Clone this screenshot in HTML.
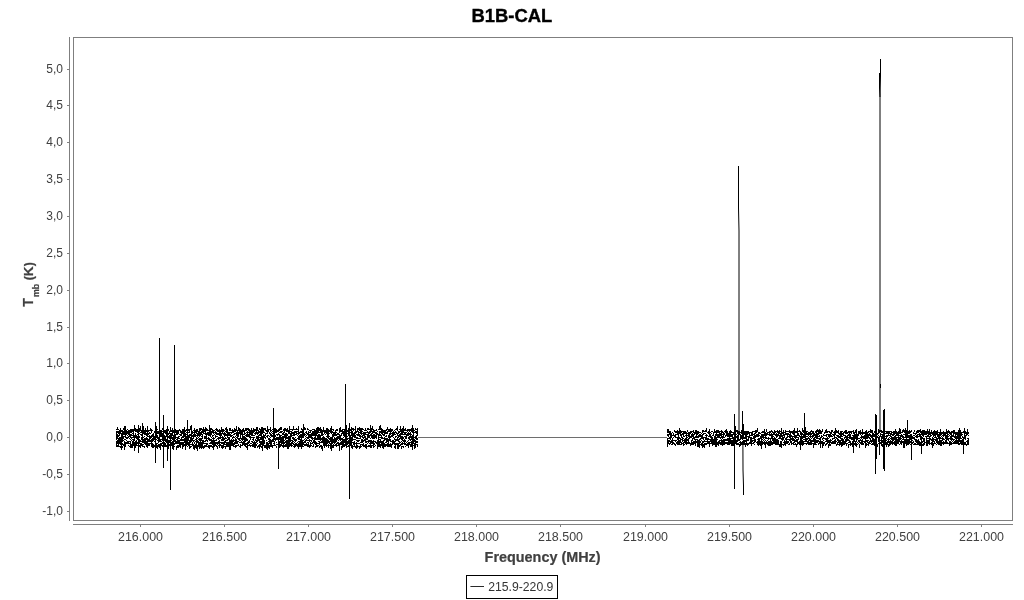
<!DOCTYPE html>
<html><head><meta charset="utf-8"><title>B1B-CAL</title>
<style>
html,body{margin:0;padding:0;background:#fff;}
body{width:1024px;height:600px;overflow:hidden;font-family:"Liberation Sans",sans-serif;}
svg{display:block;filter:grayscale(1);}
text{font-family:"Liberation Sans",sans-serif;}
</style></head><body>
<svg width="1024" height="600" viewBox="0 0 1024 600">
<rect x="0" y="0" width="1024" height="600" fill="#ffffff"/>
<text id="title" x="511.9" y="21.6" font-size="18" font-weight="bold" fill="#000" stroke="#000" stroke-width="0.35" text-anchor="middle" textLength="80.8" lengthAdjust="spacingAndGlyphs">B1B-CAL</text>
<g shape-rendering="crispEdges" fill="none" stroke="#7f7f7f" stroke-width="1">
<rect x="73.5" y="37.5" width="939" height="483"/>
<line x1="69.5" y1="37" x2="69.5" y2="521"/>
<line x1="73" y1="524.5" x2="1013" y2="524.5"/>
<line x1="67" y1="511.5" x2="70" y2="511.5"/>
<line x1="67" y1="474.5" x2="70" y2="474.5"/>
<line x1="67" y1="437.5" x2="70" y2="437.5"/>
<line x1="67" y1="400.5" x2="70" y2="400.5"/>
<line x1="67" y1="363.5" x2="70" y2="363.5"/>
<line x1="67" y1="327.5" x2="70" y2="327.5"/>
<line x1="67" y1="290.5" x2="70" y2="290.5"/>
<line x1="67" y1="253.5" x2="70" y2="253.5"/>
<line x1="67" y1="216.5" x2="70" y2="216.5"/>
<line x1="67" y1="179.5" x2="70" y2="179.5"/>
<line x1="67" y1="142.5" x2="70" y2="142.5"/>
<line x1="67" y1="105.5" x2="70" y2="105.5"/>
<line x1="67" y1="69.5" x2="70" y2="69.5"/>
<line x1="140.5" y1="524" x2="140.5" y2="527"/>
<line x1="224.5" y1="524" x2="224.5" y2="527"/>
<line x1="308.5" y1="524" x2="308.5" y2="527"/>
<line x1="392.5" y1="524" x2="392.5" y2="527"/>
<line x1="476.5" y1="524" x2="476.5" y2="527"/>
<line x1="560.5" y1="524" x2="560.5" y2="527"/>
<line x1="645.5" y1="524" x2="645.5" y2="527"/>
<line x1="729.5" y1="524" x2="729.5" y2="527"/>
<line x1="813.5" y1="524" x2="813.5" y2="527"/>
<line x1="897.5" y1="524" x2="897.5" y2="527"/>
<line x1="981.5" y1="524" x2="981.5" y2="527"/>
</g>
<g font-size="12" fill="#404040">
<text x="63" y="514.8" text-anchor="end">-1,0</text>
<text x="63" y="477.8" text-anchor="end">-0,5</text>
<text x="63" y="440.8" text-anchor="end">0,0</text>
<text x="63" y="403.8" text-anchor="end">0,5</text>
<text x="63" y="366.8" text-anchor="end">1,0</text>
<text x="63" y="330.8" text-anchor="end">1,5</text>
<text x="63" y="293.8" text-anchor="end">2,0</text>
<text x="63" y="256.8" text-anchor="end">2,5</text>
<text x="63" y="219.8" text-anchor="end">3,0</text>
<text x="63" y="182.8" text-anchor="end">3,5</text>
<text x="63" y="145.8" text-anchor="end">4,0</text>
<text x="63" y="108.8" text-anchor="end">4,5</text>
<text x="63" y="72.8" text-anchor="end">5,0</text>
<text x="140.5" y="540.8" text-anchor="middle" textLength="45" lengthAdjust="spacingAndGlyphs">216.000</text>
<text x="224.5" y="540.8" text-anchor="middle" textLength="45" lengthAdjust="spacingAndGlyphs">216.500</text>
<text x="308.5" y="540.8" text-anchor="middle" textLength="45" lengthAdjust="spacingAndGlyphs">217.000</text>
<text x="392.5" y="540.8" text-anchor="middle" textLength="45" lengthAdjust="spacingAndGlyphs">217.500</text>
<text x="476.5" y="540.8" text-anchor="middle" textLength="45" lengthAdjust="spacingAndGlyphs">218.000</text>
<text x="560.5" y="540.8" text-anchor="middle" textLength="45" lengthAdjust="spacingAndGlyphs">218.500</text>
<text x="645.5" y="540.8" text-anchor="middle" textLength="45" lengthAdjust="spacingAndGlyphs">219.000</text>
<text x="729.5" y="540.8" text-anchor="middle" textLength="45" lengthAdjust="spacingAndGlyphs">219.500</text>
<text x="813.5" y="540.8" text-anchor="middle" textLength="45" lengthAdjust="spacingAndGlyphs">220.000</text>
<text x="897.5" y="540.8" text-anchor="middle" textLength="45" lengthAdjust="spacingAndGlyphs">220.500</text>
<text x="981.5" y="540.8" text-anchor="middle" textLength="45" lengthAdjust="spacingAndGlyphs">221.000</text>
</g>
<text x="542.6" y="562" font-size="13.9" font-weight="bold" fill="#404040" stroke="#404040" stroke-width="0.2" text-anchor="middle" textLength="116" lengthAdjust="spacingAndGlyphs">Frequency (MHz)</text>
<g transform="translate(33.2,306.8) rotate(-90)" font-weight="bold" fill="#404040" stroke="#404040" stroke-width="0.2"><text x="0" y="0" font-size="14">T<tspan font-size="8.8" dy="5.6" dx="1.2">mb</tspan><tspan dy="-6.3" dx="3.6" font-size="12.3">(</tspan><tspan dy="0.7" font-size="13.6">K</tspan><tspan dy="-0.7" font-size="12.3">)</tspan></text></g>
<rect x="466.5" y="575.5" width="91" height="23" fill="#fff" stroke="#000" stroke-width="1" shape-rendering="crispEdges"/>
<rect x="470.4" y="586" width="13.6" height="1" fill="#2a2a2a"/>
<text x="488.2" y="590.8" font-size="12" fill="#333" textLength="65.2" lengthAdjust="spacingAndGlyphs">215.9-220.9</text>
<path shape-rendering="crispEdges" fill="#000" d="M116 429h1v1h-1zM116 431h1v9h-1zM116 441h1v6h-1zM117 427h1v3h-1zM117 431h1v2h-1zM117 434h1v5h-1zM117 440h1v4h-1zM117 445h1v2h-1zM118 429h1v1h-1zM118 431h1v3h-1zM118 435h1v2h-1zM118 438h1v9h-1zM119 430h1v6h-1zM119 437h1v7h-1zM119 446h1v1h-1zM120 428h1v6h-1zM120 437h1v8h-1zM120 446h1v2h-1zM121 430h1v2h-1zM121 433h1v7h-1zM121 441h1v3h-1zM121 445h1v2h-1zM122 430h1v12h-1zM122 443h1v2h-1zM122 446h1v2h-1zM123 428h1v2h-1zM123 431h1v4h-1zM123 436h1v3h-1zM123 440h1v1h-1zM123 444h1v2h-1zM124 426h1v9h-1zM124 436h1v1h-1zM124 439h1v1h-1zM124 441h1v9h-1zM125 428h1v8h-1zM125 437h1v1h-1zM125 439h1v1h-1zM125 442h1v5h-1zM126 430h1v5h-1zM126 437h1v2h-1zM126 440h1v1h-1zM126 442h1v2h-1zM127 429h1v1h-1zM127 431h1v3h-1zM127 435h1v1h-1zM127 437h1v2h-1zM127 441h1v3h-1zM128 430h1v5h-1zM128 436h1v2h-1zM128 441h1v3h-1zM128 445h1v1h-1zM129 430h1v7h-1zM129 438h1v1h-1zM129 441h1v1h-1zM129 443h1v1h-1zM129 446h1v1h-1zM130 429h1v4h-1zM130 434h1v4h-1zM130 439h1v1h-1zM130 441h1v7h-1zM131 429h1v4h-1zM131 434h1v2h-1zM131 437h1v2h-1zM131 440h1v1h-1zM131 444h1v4h-1zM132 429h1v3h-1zM132 433h1v1h-1zM132 435h1v1h-1zM132 437h1v1h-1zM132 439h1v1h-1zM132 441h1v7h-1zM133 429h1v9h-1zM133 439h1v7h-1zM134 425h1v6h-1zM134 435h1v6h-1zM134 442h1v9h-1zM135 428h1v4h-1zM135 433h1v5h-1zM135 441h1v7h-1zM136 429h1v3h-1zM136 435h1v4h-1zM136 440h1v6h-1zM137 429h1v4h-1zM137 434h1v1h-1zM137 436h1v4h-1zM137 442h1v2h-1zM137 445h1v1h-1zM138 428h1v4h-1zM138 434h1v4h-1zM138 440h1v4h-1zM138 445h1v2h-1zM139 428h1v4h-1zM139 433h1v1h-1zM139 436h1v2h-1zM139 439h1v5h-1zM139 445h1v2h-1zM140 426h1v5h-1zM140 432h1v1h-1zM140 434h1v1h-1zM140 440h1v2h-1zM140 443h1v5h-1zM141 430h1v3h-1zM141 434h1v2h-1zM141 437h1v3h-1zM141 441h1v1h-1zM141 443h1v3h-1zM142 427h1v7h-1zM142 435h1v1h-1zM142 437h1v6h-1zM142 444h1v3h-1zM143 426h1v8h-1zM143 437h1v1h-1zM143 439h1v4h-1zM143 444h1v1h-1zM143 446h1v1h-1zM144 430h1v5h-1zM144 436h1v1h-1zM144 438h1v6h-1zM144 446h1v2h-1zM145 428h1v7h-1zM145 438h1v7h-1zM146 430h1v2h-1zM146 433h1v3h-1zM146 437h1v3h-1zM146 441h1v6h-1zM147 426h1v11h-1zM147 438h1v10h-1zM148 430h1v2h-1zM148 433h1v2h-1zM148 436h1v1h-1zM148 439h1v3h-1zM148 443h1v3h-1zM149 430h1v1h-1zM149 432h1v2h-1zM149 435h1v7h-1zM149 443h1v3h-1zM150 428h1v3h-1zM150 433h1v1h-1zM150 436h1v3h-1zM150 440h1v2h-1zM150 443h1v1h-1zM151 429h1v4h-1zM151 435h1v3h-1zM151 439h1v8h-1zM152 430h1v1h-1zM152 434h1v3h-1zM152 438h1v4h-1zM152 443h1v5h-1zM153 433h1v8h-1zM153 444h1v4h-1zM154 431h1v2h-1zM154 436h1v4h-1zM154 441h1v1h-1zM154 445h1v2h-1zM155 430h1v3h-1zM155 437h1v3h-1zM155 441h1v3h-1zM156 426h1v12h-1zM156 439h1v1h-1zM156 443h1v5h-1zM157 429h1v1h-1zM157 431h1v3h-1zM157 435h1v4h-1zM157 440h1v1h-1zM157 443h1v1h-1zM157 445h1v4h-1zM158 431h1v3h-1zM158 437h1v6h-1zM158 444h1v3h-1zM159 427h1v6h-1zM159 437h1v5h-1zM159 444h1v4h-1zM160 430h1v7h-1zM160 439h1v3h-1zM160 443h1v7h-1zM161 430h1v7h-1zM161 439h1v1h-1zM161 441h1v1h-1zM161 443h1v3h-1zM162 428h1v2h-1zM162 431h1v1h-1zM162 433h1v8h-1zM162 442h1v2h-1zM162 445h1v2h-1zM163 429h1v1h-1zM163 434h1v7h-1zM163 443h1v3h-1zM164 430h1v3h-1zM164 435h1v6h-1zM164 442h1v5h-1zM165 430h1v4h-1zM165 436h1v6h-1zM165 443h1v4h-1zM166 429h1v8h-1zM166 439h1v4h-1zM166 445h1v2h-1zM167 426h1v6h-1zM167 433h1v4h-1zM167 438h1v1h-1zM167 440h1v4h-1zM167 446h1v1h-1zM168 429h1v2h-1zM168 433h1v2h-1zM168 436h1v2h-1zM168 440h1v9h-1zM169 431h1v3h-1zM169 435h1v4h-1zM169 440h1v3h-1zM169 444h1v2h-1zM170 427h1v5h-1zM170 433h1v7h-1zM170 441h1v3h-1zM170 445h1v3h-1zM171 430h1v2h-1zM171 433h1v6h-1zM171 440h1v1h-1zM171 442h1v4h-1zM172 428h1v8h-1zM172 437h1v3h-1zM172 441h1v8h-1zM173 430h1v3h-1zM173 435h1v15h-1zM174 427h1v15h-1zM174 443h1v2h-1zM174 446h1v1h-1zM175 429h1v4h-1zM175 434h1v5h-1zM175 440h1v4h-1zM176 430h1v5h-1zM176 437h1v1h-1zM176 439h1v1h-1zM176 441h1v3h-1zM176 446h1v4h-1zM177 430h1v5h-1zM177 437h1v7h-1zM177 445h1v3h-1zM178 430h1v4h-1zM178 436h1v3h-1zM178 440h1v4h-1zM178 445h1v3h-1zM179 429h1v2h-1zM179 434h1v1h-1zM179 436h1v1h-1zM179 438h1v1h-1zM179 440h1v7h-1zM180 430h1v3h-1zM180 434h1v2h-1zM180 439h1v2h-1zM180 442h1v6h-1zM181 431h1v5h-1zM181 437h1v4h-1zM181 442h1v3h-1zM182 429h1v5h-1zM182 436h1v2h-1zM182 439h1v2h-1zM182 442h1v7h-1zM183 429h1v9h-1zM183 439h1v2h-1zM183 442h1v5h-1zM184 427h1v10h-1zM184 438h1v5h-1zM184 444h1v2h-1zM185 430h1v2h-1zM185 433h1v5h-1zM185 439h1v2h-1zM185 442h1v4h-1zM186 429h1v2h-1zM186 432h1v1h-1zM186 434h1v1h-1zM186 436h1v10h-1zM187 430h1v1h-1zM187 432h1v2h-1zM187 435h1v10h-1zM187 446h1v1h-1zM188 429h1v2h-1zM188 432h1v1h-1zM188 435h1v6h-1zM188 442h1v4h-1zM189 429h1v4h-1zM189 434h1v4h-1zM189 440h1v9h-1zM190 426h1v4h-1zM190 434h1v2h-1zM190 437h1v6h-1zM190 444h1v1h-1zM190 446h1v2h-1zM191 428h1v5h-1zM191 434h1v1h-1zM191 436h1v1h-1zM191 438h1v4h-1zM191 444h1v1h-1zM191 446h1v1h-1zM192 431h1v3h-1zM192 435h1v2h-1zM192 438h1v3h-1zM192 442h1v4h-1zM193 430h1v1h-1zM193 432h1v1h-1zM193 434h1v5h-1zM193 440h1v2h-1zM193 444h1v5h-1zM194 428h1v9h-1zM194 440h1v1h-1zM194 442h1v2h-1zM194 445h1v5h-1zM195 430h1v3h-1zM195 434h1v3h-1zM195 439h1v1h-1zM195 441h1v1h-1zM195 444h1v4h-1zM196 429h1v5h-1zM196 435h1v1h-1zM196 437h1v3h-1zM196 441h1v1h-1zM196 444h1v1h-1zM196 446h1v2h-1zM197 429h1v3h-1zM197 433h1v4h-1zM197 438h1v1h-1zM197 440h1v3h-1zM197 445h1v6h-1zM198 431h1v5h-1zM198 437h1v1h-1zM198 439h1v1h-1zM198 441h1v6h-1zM199 428h1v9h-1zM199 438h1v3h-1zM199 442h1v7h-1zM200 428h1v3h-1zM200 432h1v4h-1zM200 438h1v10h-1zM201 428h1v2h-1zM201 431h1v4h-1zM201 436h1v1h-1zM201 438h1v3h-1zM201 442h1v7h-1zM202 429h1v4h-1zM202 434h1v5h-1zM202 440h1v8h-1zM203 427h1v7h-1zM203 440h1v4h-1zM203 446h1v3h-1zM204 429h1v3h-1zM204 433h1v1h-1zM204 436h1v3h-1zM204 441h1v1h-1zM204 443h1v1h-1zM204 445h1v3h-1zM205 427h1v8h-1zM205 436h1v3h-1zM205 440h1v2h-1zM205 443h1v1h-1zM205 445h1v2h-1zM206 428h1v3h-1zM206 433h1v8h-1zM206 443h1v4h-1zM207 429h1v2h-1zM207 432h1v3h-1zM207 438h1v1h-1zM207 440h1v2h-1zM207 443h1v2h-1zM207 446h1v1h-1zM208 430h1v1h-1zM208 432h1v4h-1zM208 437h1v3h-1zM208 445h1v3h-1zM209 425h1v11h-1zM209 438h1v3h-1zM209 443h1v1h-1zM209 445h1v4h-1zM210 428h1v9h-1zM210 439h1v2h-1zM210 442h1v2h-1zM210 445h1v2h-1zM211 428h1v2h-1zM211 431h1v4h-1zM211 437h1v1h-1zM211 439h1v5h-1zM211 445h1v2h-1zM212 429h1v4h-1zM212 435h1v2h-1zM212 438h1v1h-1zM212 440h1v5h-1zM212 446h1v2h-1zM213 430h1v4h-1zM213 435h1v1h-1zM213 438h1v2h-1zM213 441h1v1h-1zM213 443h1v5h-1zM214 430h1v1h-1zM214 432h1v1h-1zM214 434h1v1h-1zM214 438h1v1h-1zM214 440h1v7h-1zM215 429h1v1h-1zM215 431h1v3h-1zM215 435h1v3h-1zM215 440h1v1h-1zM215 442h1v4h-1zM216 428h1v3h-1zM216 432h1v3h-1zM216 436h1v1h-1zM216 439h1v2h-1zM216 442h1v2h-1zM216 445h1v2h-1zM217 429h1v3h-1zM217 433h1v2h-1zM217 436h1v1h-1zM217 438h1v1h-1zM217 442h1v3h-1zM217 446h1v3h-1zM218 430h1v2h-1zM218 433h1v2h-1zM218 437h1v3h-1zM218 441h1v3h-1zM218 445h1v1h-1zM219 429h1v7h-1zM219 437h1v2h-1zM219 440h1v8h-1zM220 430h1v9h-1zM220 442h1v1h-1zM220 444h1v2h-1zM221 427h1v5h-1zM221 433h1v3h-1zM221 437h1v1h-1zM221 439h1v2h-1zM221 442h1v2h-1zM221 445h1v3h-1zM222 429h1v5h-1zM222 436h1v5h-1zM222 442h1v2h-1zM222 445h1v4h-1zM223 429h1v3h-1zM223 433h1v2h-1zM223 437h1v4h-1zM223 442h1v6h-1zM224 430h1v1h-1zM224 432h1v5h-1zM224 438h1v2h-1zM224 441h1v4h-1zM224 446h1v1h-1zM225 428h1v2h-1zM225 431h1v1h-1zM225 433h1v3h-1zM225 437h1v2h-1zM225 440h1v3h-1zM225 444h1v1h-1zM225 446h1v3h-1zM226 427h1v6h-1zM226 434h1v2h-1zM226 438h1v1h-1zM226 440h1v1h-1zM226 442h1v5h-1zM227 429h1v9h-1zM227 439h1v2h-1zM227 442h1v5h-1zM228 432h1v4h-1zM228 437h1v3h-1zM228 442h1v5h-1zM229 428h1v3h-1zM229 432h1v4h-1zM229 440h1v2h-1zM229 444h1v4h-1zM230 428h1v3h-1zM230 432h1v1h-1zM230 434h1v3h-1zM230 440h1v10h-1zM231 430h1v1h-1zM231 432h1v2h-1zM231 435h1v2h-1zM231 439h1v7h-1zM232 429h1v4h-1zM232 435h1v1h-1zM232 437h1v2h-1zM232 440h1v6h-1zM233 430h1v3h-1zM233 434h1v1h-1zM233 436h1v2h-1zM233 439h1v3h-1zM233 443h1v4h-1zM234 428h1v4h-1zM234 433h1v2h-1zM234 437h1v1h-1zM234 440h1v1h-1zM234 442h1v3h-1zM234 446h1v1h-1zM235 429h1v3h-1zM235 433h1v1h-1zM235 436h1v1h-1zM235 438h1v6h-1zM235 445h1v3h-1zM236 426h1v5h-1zM236 432h1v4h-1zM236 437h1v1h-1zM236 439h1v5h-1zM236 445h1v2h-1zM237 430h1v9h-1zM237 441h1v3h-1zM237 445h1v1h-1zM238 427h1v4h-1zM238 432h1v5h-1zM238 438h1v2h-1zM238 441h1v1h-1zM238 444h1v2h-1zM239 428h1v6h-1zM239 438h1v3h-1zM239 442h1v1h-1zM239 446h1v1h-1zM240 429h1v10h-1zM240 440h1v1h-1zM240 442h1v1h-1zM240 444h1v4h-1zM241 430h1v5h-1zM241 438h1v2h-1zM241 441h1v2h-1zM241 445h1v1h-1zM242 429h1v12h-1zM242 442h1v4h-1zM243 428h1v4h-1zM243 434h1v1h-1zM243 436h1v4h-1zM243 441h1v4h-1zM244 430h1v5h-1zM244 436h1v10h-1zM245 428h1v3h-1zM245 433h1v1h-1zM245 435h1v1h-1zM245 437h1v5h-1zM245 443h1v4h-1zM246 428h1v3h-1zM246 432h1v1h-1zM246 434h1v3h-1zM246 438h1v3h-1zM246 443h1v2h-1zM246 446h1v2h-1zM247 428h1v2h-1zM247 431h1v6h-1zM247 439h1v2h-1zM247 442h1v8h-1zM248 428h1v3h-1zM248 432h1v1h-1zM248 434h1v3h-1zM248 441h1v3h-1zM248 445h1v1h-1zM249 429h1v9h-1zM249 440h1v3h-1zM249 444h1v2h-1zM250 430h1v5h-1zM250 436h1v4h-1zM250 443h1v1h-1zM250 445h1v2h-1zM251 428h1v8h-1zM251 437h1v1h-1zM251 441h1v1h-1zM251 443h1v1h-1zM251 445h1v1h-1zM252 430h1v6h-1zM252 437h1v1h-1zM252 439h1v1h-1zM252 441h1v2h-1zM252 444h1v3h-1zM253 428h1v5h-1zM253 435h1v1h-1zM253 437h1v4h-1zM253 442h1v5h-1zM254 429h1v3h-1zM254 433h1v1h-1zM254 435h1v1h-1zM254 437h1v1h-1zM254 441h1v7h-1zM255 429h1v2h-1zM255 432h1v3h-1zM255 439h1v2h-1zM255 442h1v6h-1zM256 427h1v7h-1zM256 436h1v3h-1zM256 440h1v3h-1zM256 444h1v2h-1zM257 427h1v4h-1zM257 432h1v3h-1zM257 436h1v6h-1zM257 443h1v1h-1zM257 446h1v2h-1zM258 430h1v4h-1zM258 435h1v6h-1zM258 445h1v2h-1zM259 428h1v2h-1zM259 431h1v2h-1zM259 434h1v2h-1zM259 437h1v1h-1zM259 439h1v4h-1zM259 444h1v5h-1zM260 429h1v7h-1zM260 437h1v3h-1zM260 441h1v6h-1zM261 427h1v13h-1zM261 441h1v4h-1zM261 446h1v2h-1zM262 427h1v7h-1zM262 436h1v5h-1zM262 442h1v5h-1zM263 428h1v5h-1zM263 434h1v12h-1zM264 428h1v2h-1zM264 432h1v1h-1zM264 435h1v3h-1zM264 440h1v4h-1zM264 445h1v3h-1zM265 428h1v3h-1zM265 433h1v3h-1zM265 437h1v2h-1zM265 445h1v3h-1zM266 430h1v2h-1zM266 433h1v1h-1zM266 436h1v1h-1zM266 440h1v1h-1zM266 442h1v7h-1zM267 426h1v8h-1zM267 435h1v3h-1zM267 442h1v8h-1zM268 429h1v3h-1zM268 435h1v1h-1zM268 438h1v2h-1zM268 441h1v1h-1zM268 443h1v5h-1zM269 429h1v1h-1zM269 432h1v2h-1zM269 436h1v1h-1zM269 438h1v6h-1zM269 445h1v4h-1zM270 427h1v5h-1zM270 433h1v3h-1zM270 437h1v1h-1zM270 439h1v8h-1zM271 430h1v1h-1zM271 432h1v1h-1zM271 434h1v3h-1zM271 440h1v7h-1zM272 429h1v1h-1zM272 431h1v1h-1zM272 433h1v1h-1zM272 435h1v2h-1zM272 439h1v3h-1zM272 445h1v3h-1zM273 429h1v6h-1zM273 436h1v6h-1zM273 443h1v1h-1zM273 445h1v1h-1zM274 428h1v12h-1zM274 441h1v5h-1zM275 428h1v5h-1zM275 435h1v2h-1zM275 438h1v3h-1zM275 445h1v1h-1zM276 429h1v4h-1zM276 434h1v1h-1zM276 437h1v3h-1zM276 442h1v1h-1zM276 444h1v1h-1zM276 446h1v2h-1zM277 430h1v2h-1zM277 434h1v2h-1zM277 437h1v3h-1zM277 444h1v1h-1zM278 429h1v3h-1zM278 433h1v2h-1zM278 437h1v3h-1zM278 443h1v5h-1zM279 428h1v3h-1zM279 432h1v1h-1zM279 434h1v6h-1zM279 441h1v7h-1zM280 427h1v3h-1zM280 431h1v2h-1zM280 435h1v8h-1zM280 444h1v3h-1zM281 427h1v3h-1zM281 431h1v2h-1zM281 435h1v1h-1zM281 437h1v9h-1zM282 431h1v1h-1zM282 433h1v2h-1zM282 436h1v8h-1zM282 445h1v2h-1zM283 429h1v2h-1zM283 432h1v3h-1zM283 436h1v12h-1zM284 428h1v5h-1zM284 434h1v4h-1zM284 440h1v1h-1zM284 442h1v2h-1zM284 445h1v2h-1zM285 428h1v3h-1zM285 433h1v7h-1zM285 441h1v2h-1zM285 444h1v3h-1zM286 429h1v3h-1zM286 433h1v6h-1zM286 440h1v7h-1zM287 428h1v4h-1zM287 434h1v2h-1zM287 437h1v2h-1zM287 440h1v9h-1zM288 430h1v4h-1zM288 436h1v13h-1zM289 426h1v8h-1zM289 436h1v11h-1zM290 429h1v1h-1zM290 431h1v1h-1zM290 433h1v9h-1zM290 443h1v3h-1zM291 429h1v1h-1zM291 431h1v6h-1zM291 440h1v1h-1zM291 442h1v5h-1zM292 429h1v2h-1zM292 432h1v2h-1zM292 435h1v1h-1zM292 437h1v2h-1zM292 440h1v4h-1zM292 445h1v1h-1zM293 426h1v4h-1zM293 432h1v4h-1zM293 437h1v3h-1zM293 441h1v1h-1zM293 443h1v2h-1zM293 446h1v1h-1zM294 429h1v1h-1zM294 431h1v5h-1zM294 438h1v3h-1zM294 442h1v1h-1zM294 444h1v4h-1zM295 429h1v1h-1zM295 431h1v2h-1zM295 434h1v1h-1zM295 437h1v1h-1zM295 439h1v3h-1zM295 443h1v4h-1zM296 428h1v2h-1zM296 431h1v4h-1zM296 439h1v2h-1zM296 443h1v3h-1zM297 429h1v1h-1zM297 431h1v1h-1zM297 433h1v1h-1zM297 435h1v1h-1zM297 438h1v1h-1zM297 442h1v1h-1zM297 444h1v3h-1zM298 426h1v9h-1zM298 436h1v4h-1zM298 441h1v1h-1zM298 443h1v6h-1zM299 432h1v2h-1zM299 435h1v5h-1zM299 441h1v6h-1zM300 431h1v2h-1zM300 434h1v4h-1zM300 439h1v8h-1zM301 428h1v2h-1zM301 431h1v2h-1zM301 434h1v15h-1zM302 429h1v9h-1zM302 440h1v7h-1zM303 432h1v3h-1zM303 437h1v1h-1zM303 440h1v1h-1zM303 442h1v3h-1zM303 446h1v1h-1zM304 427h1v3h-1zM304 433h1v3h-1zM304 439h1v1h-1zM304 441h1v2h-1zM304 444h1v2h-1zM305 428h1v2h-1zM305 432h1v1h-1zM305 434h1v1h-1zM305 436h1v1h-1zM305 438h1v1h-1zM305 440h1v3h-1zM305 444h1v2h-1zM306 431h1v3h-1zM306 435h1v1h-1zM306 437h1v1h-1zM306 439h1v2h-1zM306 443h1v3h-1zM307 428h1v2h-1zM307 433h1v2h-1zM307 437h1v2h-1zM307 440h1v1h-1zM307 442h1v1h-1zM307 444h1v3h-1zM308 429h1v1h-1zM308 431h1v8h-1zM308 440h1v1h-1zM308 442h1v5h-1zM309 430h1v1h-1zM309 432h1v1h-1zM309 434h1v4h-1zM309 439h1v3h-1zM309 445h1v3h-1zM310 430h1v3h-1zM310 434h1v4h-1zM310 440h1v1h-1zM310 442h1v5h-1zM311 430h1v1h-1zM311 433h1v6h-1zM311 440h1v2h-1zM311 443h1v1h-1zM311 445h1v1h-1zM312 429h1v1h-1zM312 431h1v5h-1zM312 437h1v3h-1zM312 442h1v2h-1zM312 446h1v1h-1zM313 429h1v1h-1zM313 431h1v5h-1zM313 438h1v1h-1zM313 440h1v3h-1zM313 444h1v3h-1zM314 429h1v7h-1zM314 437h1v7h-1zM315 430h1v10h-1zM315 441h1v4h-1zM315 446h1v2h-1zM316 428h1v8h-1zM316 438h1v2h-1zM316 442h1v5h-1zM317 427h1v7h-1zM317 435h1v5h-1zM317 443h1v1h-1zM317 445h1v2h-1zM318 427h1v6h-1zM318 434h1v6h-1zM318 441h1v1h-1zM318 443h1v1h-1zM318 445h1v1h-1zM319 428h1v3h-1zM319 432h1v1h-1zM319 434h1v6h-1zM319 441h1v4h-1zM319 446h1v2h-1zM320 427h1v6h-1zM320 435h1v6h-1zM320 442h1v1h-1zM320 445h1v2h-1zM321 429h1v7h-1zM321 438h1v2h-1zM321 441h1v2h-1zM321 445h1v4h-1zM322 430h1v6h-1zM322 437h1v6h-1zM322 446h1v5h-1zM323 427h1v5h-1zM323 434h1v1h-1zM323 436h1v10h-1zM324 430h1v4h-1zM324 437h1v11h-1zM325 430h1v3h-1zM325 434h1v1h-1zM325 438h1v8h-1zM326 428h1v6h-1zM326 436h1v1h-1zM326 438h1v9h-1zM327 428h1v10h-1zM327 439h1v5h-1zM327 445h1v1h-1zM328 429h1v10h-1zM328 440h1v3h-1zM328 444h1v4h-1zM329 430h1v2h-1zM329 433h1v1h-1zM329 436h1v1h-1zM329 438h1v2h-1zM329 441h1v3h-1zM329 445h1v1h-1zM330 428h1v5h-1zM330 437h1v5h-1zM330 443h1v6h-1zM331 426h1v8h-1zM331 437h1v9h-1zM332 429h1v1h-1zM332 431h1v2h-1zM332 434h1v10h-1zM332 445h1v3h-1zM333 429h1v2h-1zM333 432h1v5h-1zM333 439h1v4h-1zM333 444h1v4h-1zM334 432h1v4h-1zM334 437h1v7h-1zM334 445h1v1h-1zM335 430h1v6h-1zM335 438h1v5h-1zM335 444h1v2h-1zM336 429h1v2h-1zM336 432h1v1h-1zM336 434h1v2h-1zM336 437h1v5h-1zM336 443h1v4h-1zM337 429h1v2h-1zM337 433h1v2h-1zM337 436h1v4h-1zM337 442h1v2h-1zM337 445h1v1h-1zM338 433h1v2h-1zM338 436h1v3h-1zM338 440h1v1h-1zM338 442h1v4h-1zM339 428h1v5h-1zM339 434h1v6h-1zM339 443h1v8h-1zM340 427h1v5h-1zM340 435h1v6h-1zM340 442h1v3h-1zM341 430h1v2h-1zM341 433h1v3h-1zM341 438h1v2h-1zM341 441h1v4h-1zM341 446h1v4h-1zM342 429h1v5h-1zM342 438h1v10h-1zM343 429h1v1h-1zM343 431h1v5h-1zM343 437h1v1h-1zM343 439h1v8h-1zM344 429h1v8h-1zM344 439h1v4h-1zM344 444h1v3h-1zM345 429h1v1h-1zM345 431h1v1h-1zM345 434h1v3h-1zM345 438h1v8h-1zM346 428h1v3h-1zM346 432h1v2h-1zM346 435h1v1h-1zM346 437h1v11h-1zM347 430h1v2h-1zM347 433h1v1h-1zM347 436h1v1h-1zM347 438h1v2h-1zM347 441h1v4h-1zM347 446h1v1h-1zM348 428h1v8h-1zM348 438h1v1h-1zM348 440h1v4h-1zM348 445h1v2h-1zM349 430h1v1h-1zM349 433h1v1h-1zM349 437h1v2h-1zM349 440h1v6h-1zM350 429h1v2h-1zM350 432h1v1h-1zM350 435h1v11h-1zM351 427h1v9h-1zM351 437h1v11h-1zM352 428h1v2h-1zM352 431h1v10h-1zM352 442h1v1h-1zM352 445h1v4h-1zM353 428h1v3h-1zM353 433h1v4h-1zM353 439h1v1h-1zM353 442h1v3h-1zM353 446h1v1h-1zM354 429h1v1h-1zM354 432h1v6h-1zM354 439h1v1h-1zM354 441h1v6h-1zM355 426h1v8h-1zM355 435h1v3h-1zM355 439h1v1h-1zM355 443h1v1h-1zM355 446h1v2h-1zM356 431h1v2h-1zM356 434h1v1h-1zM356 437h1v2h-1zM356 440h1v1h-1zM356 442h1v7h-1zM357 428h1v4h-1zM357 434h1v2h-1zM357 437h1v2h-1zM357 440h1v2h-1zM357 443h1v1h-1zM357 445h1v3h-1zM358 428h1v2h-1zM358 431h1v5h-1zM358 438h1v1h-1zM358 440h1v2h-1zM358 443h1v1h-1zM358 446h1v1h-1zM359 427h1v4h-1zM359 432h1v1h-1zM359 434h1v3h-1zM359 438h1v1h-1zM359 440h1v1h-1zM359 443h1v1h-1zM359 446h1v3h-1zM360 428h1v6h-1zM360 435h1v4h-1zM360 442h1v1h-1zM360 444h1v4h-1zM361 428h1v7h-1zM361 436h1v1h-1zM361 439h1v4h-1zM361 444h1v1h-1zM361 446h1v1h-1zM362 428h1v2h-1zM362 431h1v1h-1zM362 433h1v1h-1zM362 435h1v3h-1zM362 439h1v4h-1zM362 444h1v2h-1zM363 429h1v1h-1zM363 432h1v4h-1zM363 437h1v2h-1zM363 440h1v2h-1zM363 443h1v4h-1zM364 430h1v1h-1zM364 432h1v6h-1zM364 439h1v2h-1zM364 445h1v2h-1zM365 428h1v3h-1zM365 432h1v3h-1zM365 436h1v7h-1zM365 444h1v4h-1zM366 430h1v1h-1zM366 432h1v1h-1zM366 434h1v1h-1zM366 438h1v2h-1zM366 441h1v2h-1zM366 444h1v5h-1zM367 428h1v2h-1zM367 431h1v2h-1zM367 434h1v6h-1zM367 441h1v1h-1zM367 443h1v1h-1zM367 446h1v1h-1zM368 428h1v2h-1zM368 432h1v6h-1zM368 440h1v3h-1zM368 445h1v2h-1zM369 429h1v1h-1zM369 431h1v3h-1zM369 435h1v3h-1zM369 440h1v2h-1zM369 443h1v1h-1zM369 445h1v2h-1zM370 425h1v8h-1zM370 434h1v2h-1zM370 438h1v1h-1zM370 440h1v8h-1zM371 428h1v4h-1zM371 433h1v5h-1zM371 440h1v4h-1zM371 445h1v3h-1zM372 426h1v4h-1zM372 431h1v3h-1zM372 435h1v4h-1zM372 441h1v3h-1zM372 445h1v1h-1zM373 429h1v4h-1zM373 434h1v5h-1zM373 440h1v8h-1zM374 430h1v3h-1zM374 434h1v5h-1zM374 441h1v1h-1zM374 443h1v2h-1zM374 446h1v1h-1zM375 430h1v1h-1zM375 432h1v2h-1zM375 435h1v3h-1zM375 441h1v2h-1zM375 445h1v1h-1zM376 429h1v2h-1zM376 432h1v7h-1zM376 442h1v2h-1zM377 431h1v1h-1zM377 433h1v2h-1zM377 440h1v9h-1zM378 429h1v1h-1zM378 434h1v13h-1zM379 426h1v4h-1zM379 431h1v5h-1zM379 437h1v1h-1zM379 439h1v1h-1zM379 441h1v6h-1zM380 425h1v5h-1zM380 431h1v2h-1zM380 434h1v2h-1zM380 437h1v1h-1zM380 439h1v4h-1zM380 444h1v4h-1zM381 428h1v6h-1zM381 435h1v4h-1zM381 441h1v5h-1zM382 429h1v6h-1zM382 437h1v2h-1zM382 441h1v7h-1zM383 430h1v3h-1zM383 434h1v2h-1zM383 438h1v1h-1zM383 440h1v9h-1zM384 430h1v6h-1zM384 437h1v4h-1zM384 443h1v4h-1zM385 430h1v4h-1zM385 436h1v1h-1zM385 438h1v2h-1zM385 442h1v1h-1zM385 444h1v3h-1zM386 429h1v2h-1zM386 432h1v2h-1zM386 435h1v2h-1zM386 438h1v5h-1zM386 444h1v2h-1zM387 427h1v3h-1zM387 431h1v3h-1zM387 438h1v4h-1zM387 443h1v4h-1zM388 429h1v3h-1zM388 435h1v3h-1zM388 439h1v8h-1zM389 429h1v3h-1zM389 433h1v8h-1zM389 444h1v3h-1zM390 428h1v7h-1zM390 436h1v2h-1zM390 439h1v3h-1zM390 443h1v4h-1zM391 429h1v3h-1zM391 433h1v1h-1zM391 435h1v2h-1zM391 441h1v1h-1zM391 444h1v4h-1zM392 429h1v2h-1zM392 432h1v5h-1zM392 440h1v5h-1zM393 431h1v5h-1zM393 437h1v1h-1zM393 440h1v4h-1zM394 430h1v1h-1zM394 432h1v3h-1zM394 438h1v2h-1zM394 441h1v4h-1zM394 446h1v2h-1zM395 429h1v1h-1zM395 431h1v2h-1zM395 434h1v1h-1zM395 436h1v2h-1zM395 439h1v3h-1zM395 443h1v6h-1zM396 428h1v2h-1zM396 432h1v2h-1zM396 436h1v1h-1zM396 439h1v2h-1zM396 443h1v2h-1zM397 426h1v5h-1zM397 433h1v3h-1zM397 437h1v4h-1zM397 443h1v6h-1zM398 431h1v3h-1zM398 435h1v3h-1zM398 439h1v3h-1zM398 443h1v6h-1zM399 429h1v1h-1zM399 431h1v2h-1zM399 434h1v3h-1zM399 438h1v2h-1zM399 441h1v3h-1zM399 445h1v2h-1zM400 426h1v6h-1zM400 433h1v6h-1zM400 442h1v1h-1zM400 444h1v2h-1zM401 429h1v6h-1zM401 436h1v4h-1zM401 441h1v1h-1zM401 443h1v2h-1zM401 446h1v3h-1zM402 428h1v7h-1zM402 436h1v5h-1zM402 442h1v3h-1zM402 446h1v1h-1zM403 426h1v7h-1zM403 434h1v1h-1zM403 437h1v2h-1zM403 440h1v2h-1zM403 443h1v1h-1zM403 446h1v2h-1zM404 429h1v2h-1zM404 432h1v3h-1zM404 436h1v1h-1zM404 439h1v6h-1zM405 428h1v3h-1zM405 432h1v3h-1zM405 436h1v3h-1zM405 440h1v2h-1zM405 443h1v2h-1zM405 446h1v1h-1zM406 430h1v1h-1zM406 432h1v1h-1zM406 434h1v5h-1zM406 442h1v1h-1zM406 444h1v2h-1zM407 429h1v3h-1zM407 433h1v3h-1zM407 441h1v1h-1zM407 443h1v3h-1zM408 429h1v2h-1zM408 432h1v4h-1zM408 437h1v2h-1zM408 440h1v1h-1zM408 442h1v6h-1zM409 429h1v3h-1zM409 433h1v2h-1zM409 436h1v4h-1zM409 442h1v3h-1zM410 429h1v2h-1zM410 432h1v6h-1zM410 439h1v2h-1zM410 442h1v1h-1zM410 444h1v3h-1zM411 428h1v4h-1zM411 434h1v1h-1zM411 436h1v4h-1zM411 441h1v6h-1zM412 425h1v8h-1zM412 435h1v15h-1zM413 428h1v16h-1zM413 445h1v1h-1zM414 430h1v1h-1zM414 432h1v1h-1zM414 437h1v1h-1zM414 439h1v3h-1zM414 443h1v6h-1zM415 428h1v2h-1zM415 431h1v2h-1zM415 436h1v3h-1zM415 440h1v8h-1zM416 429h1v1h-1zM416 431h1v3h-1zM416 435h1v5h-1zM416 441h1v2h-1zM416 444h1v1h-1zM417 428h1v8h-1zM417 438h1v2h-1zM417 441h1v2h-1zM417 444h1v3h-1zM667 429h1v4h-1zM667 434h1v2h-1zM667 438h1v9h-1zM668 429h1v4h-1zM668 434h1v3h-1zM668 438h1v1h-1zM668 440h1v4h-1zM669 431h1v4h-1zM669 437h1v2h-1zM669 440h1v2h-1zM669 443h1v2h-1zM670 431h1v9h-1zM670 441h1v3h-1zM671 433h1v5h-1zM671 440h1v3h-1zM671 444h1v1h-1zM672 432h1v1h-1zM672 435h1v1h-1zM672 438h1v7h-1zM673 433h1v3h-1zM673 437h1v1h-1zM673 440h1v1h-1zM673 442h1v2h-1zM674 430h1v2h-1zM674 435h1v2h-1zM674 440h1v1h-1zM674 443h1v2h-1zM675 431h1v2h-1zM675 434h1v4h-1zM675 440h1v2h-1zM675 444h1v2h-1zM676 431h1v2h-1zM676 434h1v1h-1zM676 437h1v1h-1zM676 440h1v1h-1zM676 442h1v2h-1zM677 430h1v5h-1zM677 437h1v3h-1zM677 441h1v4h-1zM678 431h1v14h-1zM679 428h1v6h-1zM679 437h1v2h-1zM679 440h1v5h-1zM680 430h1v6h-1zM680 438h1v5h-1zM680 444h1v1h-1zM681 431h1v2h-1zM681 434h1v4h-1zM681 439h1v1h-1zM681 442h1v3h-1zM682 431h1v1h-1zM682 433h1v2h-1zM682 437h1v5h-1zM682 443h1v1h-1zM683 431h1v6h-1zM683 438h1v1h-1zM683 440h1v1h-1zM683 442h1v4h-1zM684 431h1v3h-1zM684 436h1v1h-1zM684 439h1v4h-1zM684 444h1v1h-1zM685 431h1v3h-1zM685 435h1v1h-1zM685 438h1v6h-1zM686 432h1v13h-1zM687 430h1v2h-1zM687 433h1v1h-1zM687 435h1v1h-1zM687 437h1v1h-1zM687 439h1v2h-1zM687 442h1v2h-1zM688 432h1v5h-1zM688 438h1v6h-1zM689 432h1v7h-1zM689 442h1v2h-1zM690 431h1v3h-1zM690 436h1v2h-1zM690 443h1v3h-1zM691 431h1v2h-1zM691 434h1v4h-1zM691 440h1v5h-1zM692 431h1v1h-1zM692 433h1v4h-1zM692 438h1v3h-1zM692 442h1v3h-1zM693 430h1v3h-1zM693 434h1v5h-1zM693 441h1v4h-1zM694 432h1v3h-1zM694 437h1v3h-1zM694 441h1v3h-1zM695 430h1v4h-1zM695 436h1v2h-1zM695 439h1v7h-1zM696 430h1v8h-1zM696 439h1v1h-1zM696 441h1v2h-1zM697 431h1v4h-1zM697 436h1v2h-1zM697 439h1v8h-1zM698 431h1v3h-1zM698 435h1v3h-1zM698 440h1v7h-1zM699 432h1v1h-1zM699 434h1v3h-1zM699 439h1v9h-1zM700 432h1v1h-1zM700 434h1v3h-1zM700 438h1v2h-1zM700 441h1v2h-1zM700 444h1v1h-1zM701 433h1v1h-1zM701 435h1v4h-1zM701 440h1v1h-1zM701 443h1v3h-1zM702 430h1v3h-1zM702 434h1v5h-1zM702 441h1v7h-1zM703 430h1v2h-1zM703 433h1v2h-1zM703 437h1v3h-1zM703 441h1v2h-1zM703 444h1v3h-1zM704 431h1v1h-1zM704 433h1v1h-1zM704 437h1v1h-1zM704 440h1v2h-1zM704 443h1v5h-1zM705 430h1v2h-1zM705 433h1v1h-1zM705 435h1v1h-1zM705 437h1v3h-1zM705 441h1v1h-1zM705 443h1v2h-1zM706 428h1v4h-1zM706 434h1v6h-1zM706 441h1v1h-1zM706 443h1v2h-1zM707 432h1v1h-1zM707 435h1v1h-1zM707 438h1v6h-1zM708 431h1v3h-1zM708 436h1v1h-1zM708 438h1v2h-1zM708 441h1v3h-1zM709 429h1v8h-1zM709 439h1v1h-1zM709 441h1v6h-1zM710 432h1v1h-1zM710 434h1v4h-1zM710 439h1v3h-1zM710 443h1v1h-1zM711 431h1v1h-1zM711 433h1v1h-1zM711 436h1v8h-1zM712 431h1v1h-1zM712 435h1v1h-1zM712 437h1v9h-1zM713 432h1v4h-1zM713 439h1v6h-1zM714 429h1v4h-1zM714 436h1v9h-1zM715 431h1v2h-1zM715 434h1v13h-1zM716 430h1v6h-1zM716 437h1v10h-1zM717 430h1v3h-1zM717 434h1v4h-1zM717 439h1v1h-1zM717 442h1v3h-1zM718 430h1v3h-1zM718 434h1v4h-1zM718 441h1v5h-1zM719 431h1v7h-1zM719 440h1v4h-1zM720 431h1v1h-1zM720 433h1v3h-1zM720 437h1v2h-1zM720 440h1v1h-1zM720 442h1v3h-1zM721 430h1v8h-1zM721 439h1v6h-1zM722 431h1v2h-1zM722 434h1v1h-1zM722 436h1v3h-1zM722 440h1v6h-1zM723 432h1v6h-1zM723 439h1v6h-1zM724 431h1v1h-1zM724 433h1v2h-1zM724 437h1v1h-1zM724 439h1v6h-1zM725 430h1v3h-1zM725 435h1v2h-1zM725 439h1v2h-1zM725 442h1v2h-1zM726 429h1v7h-1zM726 439h1v2h-1zM726 442h1v2h-1zM727 431h1v6h-1zM727 438h1v3h-1zM727 442h1v3h-1zM728 433h1v4h-1zM728 438h1v7h-1zM729 431h1v14h-1zM730 430h1v7h-1zM730 438h1v6h-1zM731 431h1v2h-1zM731 434h1v3h-1zM731 438h1v1h-1zM731 440h1v6h-1zM732 432h1v1h-1zM732 434h1v5h-1zM732 440h1v6h-1zM733 432h1v3h-1zM733 437h1v9h-1zM734 432h1v1h-1zM734 436h1v3h-1zM734 440h1v1h-1zM734 442h1v3h-1zM735 431h1v2h-1zM735 436h1v8h-1zM736 430h1v2h-1zM736 434h1v1h-1zM736 436h1v2h-1zM736 440h1v5h-1zM737 430h1v4h-1zM737 435h1v7h-1zM737 443h1v2h-1zM738 431h1v10h-1zM738 443h1v2h-1zM739 431h1v4h-1zM739 439h1v2h-1zM739 442h1v1h-1zM739 444h1v3h-1zM740 432h1v1h-1zM740 434h1v6h-1zM740 441h1v5h-1zM741 430h1v4h-1zM741 435h1v4h-1zM741 442h1v3h-1zM742 430h1v4h-1zM742 436h1v1h-1zM742 438h1v2h-1zM742 441h1v4h-1zM743 431h1v2h-1zM743 434h1v1h-1zM743 437h1v2h-1zM743 440h1v5h-1zM744 431h1v4h-1zM744 437h1v2h-1zM744 440h1v5h-1zM745 431h1v8h-1zM745 440h1v2h-1zM745 443h1v4h-1zM746 431h1v14h-1zM747 431h1v4h-1zM747 436h1v1h-1zM747 439h1v2h-1zM747 443h1v3h-1zM748 431h1v3h-1zM748 436h1v5h-1zM748 443h1v2h-1zM749 432h1v6h-1zM749 442h1v2h-1zM750 432h1v1h-1zM750 435h1v1h-1zM750 437h1v7h-1zM751 432h1v4h-1zM751 437h1v9h-1zM752 431h1v5h-1zM752 438h1v1h-1zM752 440h1v2h-1zM752 443h1v1h-1zM753 431h1v1h-1zM753 434h1v1h-1zM753 436h1v3h-1zM753 440h1v1h-1zM753 442h1v2h-1zM754 431h1v1h-1zM754 433h1v10h-1zM754 444h1v1h-1zM755 430h1v4h-1zM755 435h1v3h-1zM755 439h1v3h-1zM756 430h1v3h-1zM756 434h1v3h-1zM756 442h1v1h-1zM757 428h1v4h-1zM757 434h1v3h-1zM757 439h1v1h-1zM757 441h1v4h-1zM758 432h1v5h-1zM758 438h1v8h-1zM759 432h1v2h-1zM759 435h1v1h-1zM759 438h1v7h-1zM760 433h1v1h-1zM760 436h1v3h-1zM760 441h1v5h-1zM761 432h1v1h-1zM761 434h1v4h-1zM761 441h1v5h-1zM762 431h1v2h-1zM762 434h1v4h-1zM762 439h1v1h-1zM762 441h1v4h-1zM763 431h1v2h-1zM763 434h1v5h-1zM763 440h1v1h-1zM763 442h1v2h-1zM764 429h1v7h-1zM764 437h1v1h-1zM764 439h1v1h-1zM764 441h1v4h-1zM765 432h1v7h-1zM765 440h1v1h-1zM765 442h1v6h-1zM766 429h1v3h-1zM766 433h1v3h-1zM766 437h1v2h-1zM766 441h1v3h-1zM767 432h1v3h-1zM767 438h1v1h-1zM767 440h1v1h-1zM767 442h1v3h-1zM768 432h1v1h-1zM768 434h1v1h-1zM768 437h1v3h-1zM768 441h1v5h-1zM769 431h1v5h-1zM769 438h1v1h-1zM769 441h1v5h-1zM770 431h1v2h-1zM770 434h1v2h-1zM770 438h1v8h-1zM771 430h1v2h-1zM771 433h1v6h-1zM771 441h1v4h-1zM772 431h1v2h-1zM772 434h1v7h-1zM772 442h1v3h-1zM773 432h1v3h-1zM773 436h1v1h-1zM773 438h1v6h-1zM774 430h1v5h-1zM774 437h1v7h-1zM775 431h1v2h-1zM775 434h1v2h-1zM775 438h1v7h-1zM776 431h1v1h-1zM776 433h1v5h-1zM776 439h1v6h-1zM777 430h1v3h-1zM777 434h1v3h-1zM777 439h1v6h-1zM778 431h1v5h-1zM778 438h1v1h-1zM778 440h1v5h-1zM779 430h1v4h-1zM779 435h1v4h-1zM779 444h1v3h-1zM780 431h1v1h-1zM780 433h1v6h-1zM780 441h1v6h-1zM781 428h1v9h-1zM781 438h1v2h-1zM781 441h1v7h-1zM782 432h1v2h-1zM782 435h1v6h-1zM782 444h1v1h-1zM783 430h1v6h-1zM783 437h1v3h-1zM783 442h1v1h-1zM783 444h1v2h-1zM784 432h1v1h-1zM784 434h1v4h-1zM784 440h1v5h-1zM785 430h1v5h-1zM785 438h1v2h-1zM785 441h1v5h-1zM786 431h1v1h-1zM786 433h1v2h-1zM786 437h1v7h-1zM787 431h1v1h-1zM787 433h1v5h-1zM787 439h1v1h-1zM787 441h1v3h-1zM788 431h1v1h-1zM788 433h1v2h-1zM788 436h1v1h-1zM788 439h1v1h-1zM788 441h1v2h-1zM788 444h1v1h-1zM789 430h1v3h-1zM789 434h1v4h-1zM789 439h1v2h-1zM789 443h1v2h-1zM790 431h1v12h-1zM791 431h1v2h-1zM791 435h1v2h-1zM791 438h1v2h-1zM791 441h1v4h-1zM792 431h1v3h-1zM792 436h1v5h-1zM792 443h1v1h-1zM793 430h1v5h-1zM793 436h1v1h-1zM793 438h1v3h-1zM793 442h1v3h-1zM794 428h1v10h-1zM794 439h1v4h-1zM794 444h1v1h-1zM795 431h1v2h-1zM795 435h1v4h-1zM795 440h1v2h-1zM795 443h1v2h-1zM796 431h1v2h-1zM796 435h1v3h-1zM796 439h1v3h-1zM796 444h1v3h-1zM797 428h1v8h-1zM797 437h1v1h-1zM797 439h1v6h-1zM798 431h1v1h-1zM798 433h1v3h-1zM798 437h1v3h-1zM798 442h1v2h-1zM799 430h1v2h-1zM799 435h1v2h-1zM799 441h1v4h-1zM800 431h1v4h-1zM800 436h1v2h-1zM800 439h1v2h-1zM800 442h1v2h-1zM801 432h1v13h-1zM802 428h1v4h-1zM802 433h1v2h-1zM802 436h1v3h-1zM802 440h1v6h-1zM803 430h1v3h-1zM803 434h1v4h-1zM803 439h1v1h-1zM803 441h1v4h-1zM804 432h1v6h-1zM804 439h1v1h-1zM804 441h1v1h-1zM804 443h1v1h-1zM805 431h1v3h-1zM805 435h1v7h-1zM805 443h1v1h-1zM806 431h1v4h-1zM806 436h1v1h-1zM806 438h1v4h-1zM806 443h1v2h-1zM807 431h1v1h-1zM807 433h1v2h-1zM807 436h1v1h-1zM807 438h1v2h-1zM807 441h1v3h-1zM808 432h1v4h-1zM808 437h1v2h-1zM808 440h1v5h-1zM809 432h1v3h-1zM809 436h1v1h-1zM809 438h1v3h-1zM809 442h1v3h-1zM810 431h1v7h-1zM810 439h1v6h-1zM811 430h1v2h-1zM811 433h1v2h-1zM811 436h1v1h-1zM811 438h1v1h-1zM811 440h1v5h-1zM812 431h1v3h-1zM812 435h1v3h-1zM812 440h1v2h-1zM812 443h1v1h-1zM813 431h1v6h-1zM813 438h1v4h-1zM813 443h1v5h-1zM814 433h1v3h-1zM814 437h1v8h-1zM815 431h1v2h-1zM815 434h1v4h-1zM815 439h1v6h-1zM816 430h1v9h-1zM816 440h1v3h-1zM816 444h1v1h-1zM817 429h1v3h-1zM817 433h1v6h-1zM817 440h1v3h-1zM818 430h1v5h-1zM818 436h1v1h-1zM818 438h1v1h-1zM818 440h1v2h-1zM818 443h1v2h-1zM819 429h1v5h-1zM819 435h1v2h-1zM819 438h1v2h-1zM819 441h1v3h-1zM820 430h1v4h-1zM820 437h1v10h-1zM821 431h1v3h-1zM821 435h1v3h-1zM821 441h1v3h-1zM822 429h1v3h-1zM822 436h1v1h-1zM822 438h1v2h-1zM822 441h1v7h-1zM823 434h1v2h-1zM823 437h1v2h-1zM823 440h1v1h-1zM823 442h1v4h-1zM824 432h1v2h-1zM824 435h1v1h-1zM824 438h1v1h-1zM824 442h1v2h-1zM825 430h1v3h-1zM825 435h1v1h-1zM825 438h1v2h-1zM825 441h1v1h-1zM825 444h1v2h-1zM826 429h1v4h-1zM826 434h1v3h-1zM826 438h1v4h-1zM826 443h1v2h-1zM827 431h1v2h-1zM827 434h1v1h-1zM827 437h1v7h-1zM828 431h1v1h-1zM828 434h1v3h-1zM828 438h1v1h-1zM828 440h1v3h-1zM828 444h1v4h-1zM829 431h1v2h-1zM829 434h1v4h-1zM829 440h1v6h-1zM830 432h1v5h-1zM830 439h1v4h-1zM830 444h1v2h-1zM831 430h1v4h-1zM831 435h1v2h-1zM831 440h1v1h-1zM831 442h1v2h-1zM832 430h1v2h-1zM832 434h1v1h-1zM832 436h1v1h-1zM832 438h1v2h-1zM832 441h1v3h-1zM833 432h1v1h-1zM833 434h1v2h-1zM833 438h1v1h-1zM833 441h1v3h-1zM834 431h1v8h-1zM834 440h1v4h-1zM835 428h1v7h-1zM835 437h1v1h-1zM835 439h1v5h-1zM836 430h1v3h-1zM836 435h1v1h-1zM836 437h1v2h-1zM836 441h1v1h-1zM836 444h1v2h-1zM837 431h1v2h-1zM837 435h1v2h-1zM837 438h1v3h-1zM837 442h1v3h-1zM838 430h1v4h-1zM838 435h1v3h-1zM838 439h1v4h-1zM838 444h1v1h-1zM839 433h1v2h-1zM839 436h1v2h-1zM839 440h1v6h-1zM840 431h1v8h-1zM840 440h1v5h-1zM841 431h1v6h-1zM841 438h1v3h-1zM841 442h1v5h-1zM842 431h1v1h-1zM842 433h1v2h-1zM842 436h1v1h-1zM842 438h1v8h-1zM843 432h1v4h-1zM843 439h1v6h-1zM844 431h1v2h-1zM844 435h1v1h-1zM844 437h1v2h-1zM844 441h1v4h-1zM845 430h1v4h-1zM845 435h1v3h-1zM845 439h1v5h-1zM846 430h1v4h-1zM846 436h1v6h-1zM846 443h1v3h-1zM847 432h1v2h-1zM847 435h1v6h-1zM847 443h1v1h-1zM848 431h1v2h-1zM848 434h1v2h-1zM848 437h1v1h-1zM848 439h1v2h-1zM848 442h1v1h-1zM848 444h1v4h-1zM849 431h1v8h-1zM849 440h1v3h-1zM849 444h1v1h-1zM850 431h1v2h-1zM850 434h1v5h-1zM850 441h1v5h-1zM851 431h1v3h-1zM851 437h1v3h-1zM851 443h1v2h-1zM852 431h1v1h-1zM852 435h1v1h-1zM852 437h1v3h-1zM852 441h1v6h-1zM853 430h1v4h-1zM853 435h1v3h-1zM853 439h1v2h-1zM853 442h1v4h-1zM854 432h1v10h-1zM854 443h1v2h-1zM855 430h1v3h-1zM855 434h1v5h-1zM855 441h1v5h-1zM856 429h1v13h-1zM856 443h1v4h-1zM857 434h1v6h-1zM857 442h1v1h-1zM857 444h1v1h-1zM858 431h1v5h-1zM858 438h1v1h-1zM858 440h1v2h-1zM858 443h1v1h-1zM859 431h1v3h-1zM859 438h1v1h-1zM859 440h1v3h-1zM859 444h1v4h-1zM860 430h1v5h-1zM860 437h1v1h-1zM860 439h1v2h-1zM860 442h1v2h-1zM861 432h1v2h-1zM861 435h1v4h-1zM861 440h1v5h-1zM862 429h1v6h-1zM862 436h1v2h-1zM862 439h1v6h-1zM863 432h1v2h-1zM863 436h1v3h-1zM863 441h1v1h-1zM863 443h1v2h-1zM864 432h1v2h-1zM864 435h1v4h-1zM864 441h1v2h-1zM865 431h1v17h-1zM866 430h1v9h-1zM866 440h1v2h-1zM866 443h1v3h-1zM867 432h1v7h-1zM867 440h1v3h-1zM867 444h1v1h-1zM868 431h1v2h-1zM868 434h1v4h-1zM868 440h1v1h-1zM868 442h1v4h-1zM869 431h1v1h-1zM869 433h1v3h-1zM869 437h1v2h-1zM869 441h1v3h-1zM870 429h1v4h-1zM870 434h1v3h-1zM870 438h1v4h-1zM870 443h1v1h-1zM871 430h1v3h-1zM871 435h1v3h-1zM871 440h1v3h-1zM871 444h1v1h-1zM872 430h1v12h-1zM872 443h1v2h-1zM873 433h1v4h-1zM873 438h1v7h-1zM874 431h1v2h-1zM874 434h1v3h-1zM874 439h1v7h-1zM875 431h1v1h-1zM875 433h1v2h-1zM875 436h1v1h-1zM875 440h1v1h-1zM875 443h1v2h-1zM876 431h1v4h-1zM876 439h1v2h-1zM876 442h1v1h-1zM876 444h1v2h-1zM877 433h1v2h-1zM877 436h1v2h-1zM877 444h1v3h-1zM878 429h1v5h-1zM878 435h1v1h-1zM878 437h1v5h-1zM878 443h1v1h-1zM879 430h1v3h-1zM879 436h1v3h-1zM879 440h1v1h-1zM879 444h1v2h-1zM880 430h1v2h-1zM880 433h1v4h-1zM880 440h1v1h-1zM880 442h1v2h-1zM881 430h1v3h-1zM881 434h1v1h-1zM881 436h1v10h-1zM882 431h1v2h-1zM882 434h1v5h-1zM882 440h1v3h-1zM882 444h1v3h-1zM883 429h1v5h-1zM883 435h1v7h-1zM883 443h1v2h-1zM884 429h1v3h-1zM884 434h1v1h-1zM884 436h1v2h-1zM884 439h1v4h-1zM885 431h1v1h-1zM885 433h1v1h-1zM885 436h1v1h-1zM885 438h1v7h-1zM886 431h1v3h-1zM886 435h1v4h-1zM886 440h1v1h-1zM886 442h1v5h-1zM887 431h1v3h-1zM887 435h1v2h-1zM887 439h1v1h-1zM887 441h1v4h-1zM888 431h1v5h-1zM888 438h1v5h-1zM888 444h1v3h-1zM889 431h1v3h-1zM889 435h1v1h-1zM889 437h1v1h-1zM889 439h1v1h-1zM889 441h1v5h-1zM890 431h1v1h-1zM890 433h1v4h-1zM890 438h1v1h-1zM890 440h1v5h-1zM891 431h1v4h-1zM891 436h1v4h-1zM891 441h1v3h-1zM892 432h1v1h-1zM892 434h1v2h-1zM892 437h1v8h-1zM893 431h1v5h-1zM893 437h1v4h-1zM893 442h1v2h-1zM894 431h1v4h-1zM894 436h1v4h-1zM894 441h1v4h-1zM895 429h1v5h-1zM895 435h1v11h-1zM896 431h1v5h-1zM896 437h1v9h-1zM897 432h1v4h-1zM897 437h1v1h-1zM897 439h1v5h-1zM898 431h1v13h-1zM899 428h1v6h-1zM899 435h1v1h-1zM899 437h1v5h-1zM899 444h1v1h-1zM900 429h1v5h-1zM900 435h1v5h-1zM900 441h1v3h-1zM901 432h1v1h-1zM901 434h1v3h-1zM901 438h1v1h-1zM901 440h1v5h-1zM902 430h1v3h-1zM902 435h1v3h-1zM902 439h1v1h-1zM902 441h1v2h-1zM903 429h1v3h-1zM903 434h1v1h-1zM903 436h1v4h-1zM903 441h1v7h-1zM904 430h1v3h-1zM904 434h1v1h-1zM904 437h1v1h-1zM904 439h1v9h-1zM905 428h1v10h-1zM905 439h1v5h-1zM906 430h1v16h-1zM907 430h1v4h-1zM907 435h1v3h-1zM907 439h1v6h-1zM908 431h1v3h-1zM908 435h1v3h-1zM908 439h1v6h-1zM909 430h1v4h-1zM909 435h1v9h-1zM910 431h1v2h-1zM910 434h1v6h-1zM910 441h1v2h-1zM910 444h1v1h-1zM911 430h1v2h-1zM911 434h1v10h-1zM912 436h1v3h-1zM912 440h1v1h-1zM912 442h1v2h-1zM913 432h1v2h-1zM913 435h1v1h-1zM913 437h1v2h-1zM913 441h1v2h-1zM913 444h1v1h-1zM914 430h1v2h-1zM914 433h1v1h-1zM914 435h1v1h-1zM914 437h1v3h-1zM914 443h1v2h-1zM915 433h1v2h-1zM915 436h1v1h-1zM915 439h1v3h-1zM915 443h1v2h-1zM916 431h1v3h-1zM916 435h1v3h-1zM916 439h1v4h-1zM916 444h1v1h-1zM917 430h1v3h-1zM917 434h1v4h-1zM917 440h1v5h-1zM918 430h1v3h-1zM918 434h1v1h-1zM918 436h1v1h-1zM918 439h1v6h-1zM919 430h1v2h-1zM919 433h1v4h-1zM919 441h1v5h-1zM920 429h1v4h-1zM920 434h1v6h-1zM920 442h1v4h-1zM921 431h1v4h-1zM921 436h1v2h-1zM921 439h1v2h-1zM921 442h1v3h-1zM922 430h1v6h-1zM922 437h1v2h-1zM922 441h1v2h-1zM922 444h1v2h-1zM923 430h1v7h-1zM923 438h1v4h-1zM923 443h1v3h-1zM924 430h1v5h-1zM924 438h1v7h-1zM925 431h1v4h-1zM925 436h1v1h-1zM925 442h1v1h-1zM926 431h1v4h-1zM926 436h1v10h-1zM927 429h1v5h-1zM927 435h1v2h-1zM927 438h1v1h-1zM927 440h1v6h-1zM928 431h1v6h-1zM928 438h1v1h-1zM928 440h1v4h-1zM929 429h1v6h-1zM929 436h1v9h-1zM930 432h1v5h-1zM930 438h1v2h-1zM930 443h1v1h-1zM931 430h1v4h-1zM931 435h1v1h-1zM931 439h1v2h-1zM931 442h1v3h-1zM932 432h1v3h-1zM932 437h1v11h-1zM933 431h1v6h-1zM933 438h1v4h-1zM933 443h1v3h-1zM934 430h1v6h-1zM934 437h1v1h-1zM934 439h1v1h-1zM934 441h1v3h-1zM935 431h1v7h-1zM935 439h1v2h-1zM935 443h1v1h-1zM936 431h1v4h-1zM936 437h1v6h-1zM936 444h1v1h-1zM937 430h1v7h-1zM937 438h1v6h-1zM938 432h1v1h-1zM938 434h1v5h-1zM938 441h1v4h-1zM939 432h1v13h-1zM940 429h1v7h-1zM940 437h1v2h-1zM940 440h1v6h-1zM941 432h1v3h-1zM941 436h1v1h-1zM941 438h1v1h-1zM941 440h1v6h-1zM942 432h1v2h-1zM942 435h1v1h-1zM942 437h1v4h-1zM942 442h1v2h-1zM943 431h1v6h-1zM943 438h1v2h-1zM943 441h1v4h-1zM944 432h1v4h-1zM944 439h1v1h-1zM944 442h1v2h-1zM945 432h1v7h-1zM945 440h1v4h-1zM946 429h1v5h-1zM946 435h1v9h-1zM947 431h1v9h-1zM947 442h1v2h-1zM948 430h1v3h-1zM948 434h1v1h-1zM948 436h1v1h-1zM948 438h1v3h-1zM948 443h1v1h-1zM949 431h1v3h-1zM949 435h1v1h-1zM949 438h1v1h-1zM949 441h1v5h-1zM950 432h1v3h-1zM950 436h1v4h-1zM950 441h1v4h-1zM951 431h1v10h-1zM951 442h1v3h-1zM952 431h1v2h-1zM952 435h1v2h-1zM952 438h1v2h-1zM952 441h1v1h-1zM952 443h1v1h-1zM953 430h1v7h-1zM953 439h1v2h-1zM953 442h1v2h-1zM954 430h1v4h-1zM954 436h1v2h-1zM954 439h1v1h-1zM954 441h1v3h-1zM955 432h1v7h-1zM955 440h1v4h-1zM956 432h1v3h-1zM956 436h1v8h-1zM957 432h1v7h-1zM957 440h1v4h-1zM958 430h1v15h-1zM959 431h1v2h-1zM959 434h1v8h-1zM959 443h1v2h-1zM960 430h1v9h-1zM960 440h1v4h-1zM961 432h1v4h-1zM961 438h1v1h-1zM961 440h1v5h-1zM962 432h1v1h-1zM962 434h1v1h-1zM962 436h1v2h-1zM962 439h1v6h-1zM963 431h1v2h-1zM963 437h1v6h-1zM963 444h1v2h-1zM964 433h1v1h-1zM964 438h1v1h-1zM964 442h1v3h-1zM965 431h1v3h-1zM965 435h1v5h-1zM965 442h1v3h-1zM966 432h1v4h-1zM966 441h1v1h-1zM966 444h1v2h-1zM967 429h1v6h-1zM967 438h1v1h-1zM967 440h1v5h-1zM968 432h1v2h-1zM968 435h1v1h-1zM968 438h1v7h-1zM159 338h1v100h-1zM174 345h1v93h-1zM163 415h1v23h-1zM155 422h1v16h-1zM142 423h1v15h-1zM138 425h1v13h-1zM125 426h1v12h-1zM187 420h1v18h-1zM191 425h1v13h-1zM167 426h1v12h-1zM273 408h1v30h-1zM345 384h1v54h-1zM303 424h1v14h-1zM349 423h1v15h-1zM346 425h1v13h-1zM155 437h1v26h-1zM163 437h1v31h-1zM167 437h1v24h-1zM170 437h1v53h-1zM138 437h1v16h-1zM121 437h1v13h-1zM278 437h1v32h-1zM349 437h1v62h-1zM185 437h1v13h-1zM213 437h1v13h-1zM229 437h1v13h-1zM196 437h1v12h-1zM262 437h1v14h-1zM331 437h1v14h-1zM734 414h1v24h-1zM742 411h1v27h-1zM743 424h1v14h-1zM735 426h1v12h-1zM804 413h1v25h-1zM805 427h1v11h-1zM875 414h1v24h-1zM876 415h1v23h-1zM883 410h1v28h-1zM884 409h1v29h-1zM907 420h1v18h-1zM959 428h1v10h-1zM964 428h1v10h-1zM734 437h1v52h-1zM875 437h1v37h-1zM876 437h1v22h-1zM879 437h1v18h-1zM883 437h1v32h-1zM884 437h1v34h-1zM853 437h1v16h-1zM911 437h1v23h-1zM921 437h1v17h-1zM963 437h1v17h-1zM761 437h1v12h-1zM800 437h1v13h-1zM820 437h1v11h-1z"/>
<rect x="418" y="437" width="249" height="1" fill="#6e6e6e" shape-rendering="crispEdges"/>
<g fill="none" stroke="#000" stroke-width="1" stroke-linecap="butt">
<polyline points="738.5,166 738.5,208 739,231 739,431"/>
<polyline points="742.9,444 743,470 743.5,486 743.5,495"/>
<polyline points="880.5,59 880.5,76 880,97 880,431"/>
<polyline points="879.5,73 879.5,88 880,97"/>
<polyline points="880.5,384 880.5,388"/>
</g>
</svg>
</body></html>
